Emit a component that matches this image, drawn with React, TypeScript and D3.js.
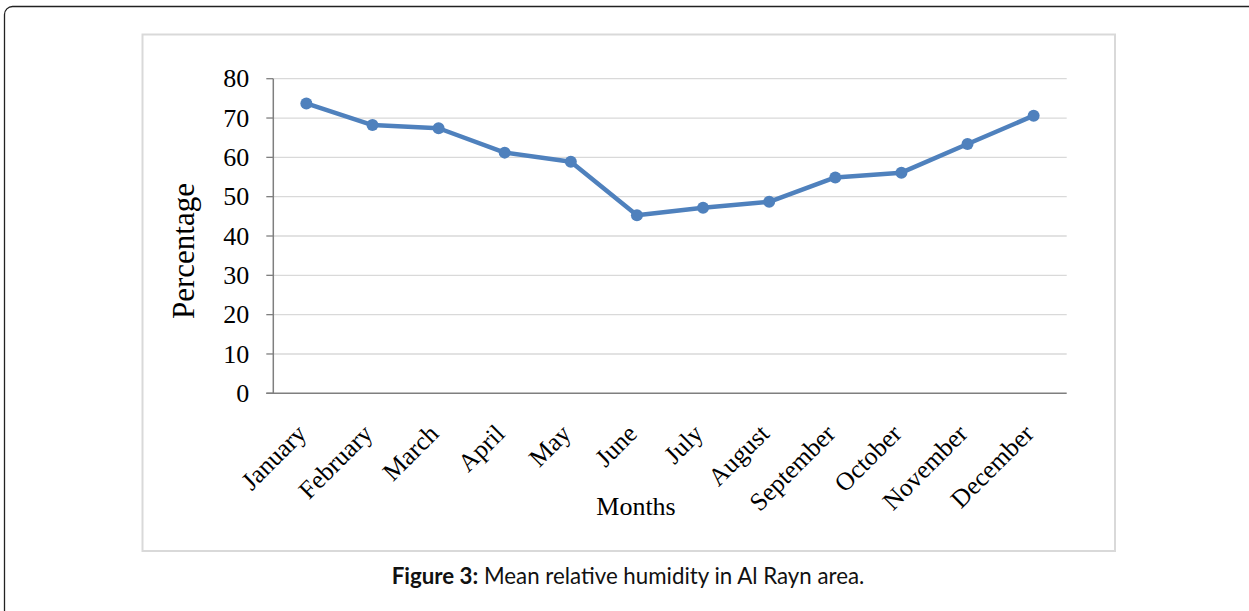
import React from "react";
import * as d3 from "d3";

const months = ["January","February","March","April","May","June","July","August","September","October","November","December"];
const humidity = [73.7, 68.2, 67.4, 61.2, 58.9, 45.3, 47.2, 48.7, 54.9, 56.1, 63.4, 70.6];
const yTicks = [0, 10, 20, 30, 40, 50, 60, 70, 80];

const W = 1249, H = 611;
const plot = { left: 273.3, right: 1066.7, top: 78.7, bottom: 393.3 };
const blue = "#4f81bd";

export default function App() {
  const x = d3.scaleBand<string>().domain(months).range([plot.left, plot.right]);
  const y = d3.scaleLinear().domain([0, 80]).range([plot.bottom, plot.top]);
  const line = d3.line<number>()
    .x((_, i) => (x(months[i]) as number) + x.bandwidth() / 2)
    .y((d) => y(d));
  const serif = "'Liberation Serif', 'Times New Roman', serif";

  return (
    <svg width={W} height={H} style={{ position: "absolute", left: 0, top: 0 }}>
      <rect x={0} y={0} width={W} height={H} fill="#fff" />
      <rect x={4.5} y={6.5} width={1252} height={612} rx={8} fill="none" stroke="#222" strokeWidth={1.3} />
      <rect x={142.5} y={34.5} width={972.5} height={516.5} fill="#fff" stroke="#d9d9d9" strokeWidth={2} />
      {yTicks.map((t) => (
        <g key={t}>
          {t > 0 && (
            <line x1={plot.left} x2={plot.right} y1={y(t)} y2={y(t)} stroke="#d9d9d9" strokeWidth={1.3} />
          )}
          <line x1={plot.left - 7} x2={plot.left} y1={y(t)} y2={y(t)} stroke="#7f7f7f" strokeWidth={1.3} />
          <text x={plot.left - 24} y={y(t)} dy="0.33em" textAnchor="end" fontFamily={serif} fontSize={26} fill="#000">
            {t}
          </text>
        </g>
      ))}
      <line x1={plot.left} x2={plot.left} y1={plot.top} y2={plot.bottom} stroke="#7f7f7f" strokeWidth={1.5} />
      <line x1={plot.left - 7} x2={plot.right} y1={plot.bottom} y2={plot.bottom} stroke="#7f7f7f" strokeWidth={1.5} />
      {months.map((m) => {
        const cx = (x(m) as number) + x.bandwidth() / 2;
        return (
          <text
            key={m}
            transform={`translate(${cx + 1.5},${plot.bottom + 42}) rotate(-45)`}
            textAnchor="end"
            fontFamily={serif}
            fontSize={25.5}
            fill="#000"
          >
            {m}
          </text>
        );
      })}
      <text x={636} y={515} textAnchor="middle" fontFamily={serif} fontSize={26} fill="#000">Months</text>
      <text transform={`translate(193.5,251) rotate(-90)`} textAnchor="middle" fontFamily={serif} fontSize={31} fill="#000">
        Percentage
      </text>
      <path d={line(humidity) as string} fill="none" stroke={blue} strokeWidth={4.5} strokeLinejoin="round" />
      {humidity.map((v, i) => (
        <circle key={i} cx={(x(months[i]) as number) + x.bandwidth() / 2} cy={y(v)} r={6} fill={blue} />
      ))}
      <text x={628} y={584} textAnchor="middle" fontFamily="Lato, 'Open Sans', sans-serif" fontSize={22.3} fill="#111">
        <tspan fontWeight="bold">Figure 3:</tspan> Mean relative humidity in Al Rayn area.
      </text>
    </svg>
  );
}
